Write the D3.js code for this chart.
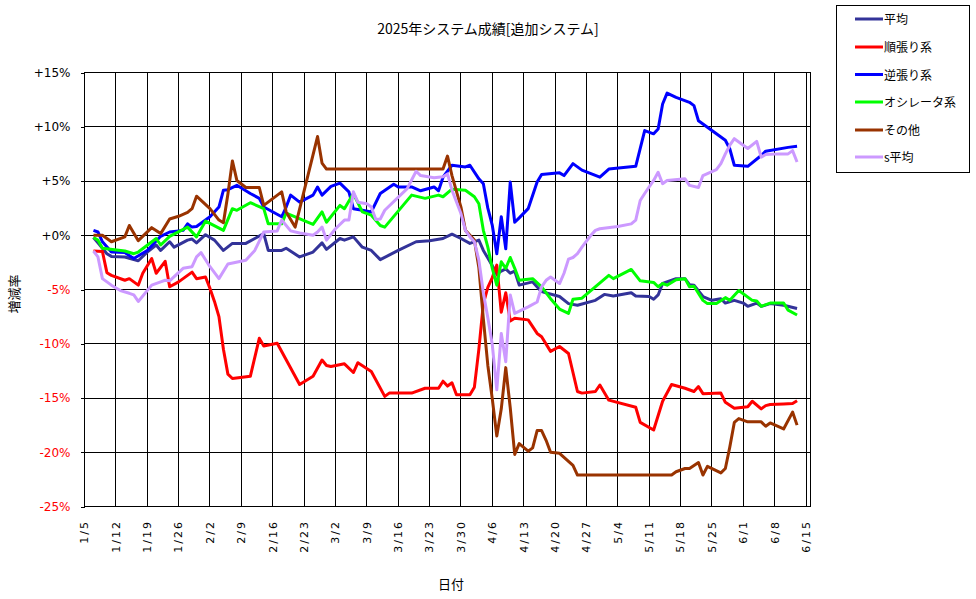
<!DOCTYPE html>
<html>
<head>
<meta charset="utf-8">
<script src="https://cdn.jsdelivr.net/npm/d3@7"></script>
<style>
  body { margin: 0; background: #fff; }
  text { font-family: "Noto Sans CJK JP", "Noto Sans", sans-serif; }
</style>
</head>
<body>
<div id="chart"></div>
<script>

//tick labels
const xTickLabels = ["1/5","1/12","1/19","1/26","2/2","2/9","2/16","2/23","3/2","3/9","3/16","3/23","3/30",
    "4/6","4/13","4/20","4/27","5/4","5/11","5/18","5/25","6/1","6/8","6/15"];
const yTicks = [-25, -20, -15, -10, -5, 0, 5, 10, 15];

//series names + colors (legend order)
const seriesNames = ["平均", "順張り系", "逆張り系", "オシレータ系", "その他", "s平均"];
const seriesColors = ["#333399", "#ff0000", "#0000ff", "#00ff00", "#993300", "#cc99ff"];

//values, [date, %]
const avg = [["1/7",-0.2],["1/8",-0.7],["1/10",-1.7],["1/11",-1.95],["1/14",-2.0],["1/17",-2.35],["1/19",-1.55],
    ["1/21",-0.9],["1/22",-1.4],["1/24",-0.6],["1/25",-1.1],["1/28",-0.45],["1/29",-0.35],["1/30",-0.7],["2/1",0.05],
    ["2/3",-0.45],["2/5",-1.4],["2/7",-0.75],["2/10",-0.75],["2/12",-0.3],["2/14",0.15],["2/15",-1.4],["2/18",-1.4],
    ["2/19",-1.2],["2/22",-2.0],["2/25",-1.55],["2/27",-0.7],["2/28",-1.3],["3/3",-0.3],["3/4",-0.45],["3/6",-0.15],
    ["3/8",-1.1],["3/10",-1.4],["3/12",-2.25],["3/16",-1.4],["3/20",-0.6],["3/23",-0.5],["3/26",-0.3],["3/28",0.1],
    ["3/30",-0.3],["4/1",-0.75],["4/3",-0.45],["4/4",-1.4],["4/5",-2.1],["4/6",-2.8],["4/7",-3.6],["4/8",-3.3],
    ["4/9",-3.1],["4/10",-3.5],["4/11",-3.3],["4/12",-4.6],["4/15",-4.3],["4/17",-5.2],["4/21",-5.65],["4/23",-6.3],
    ["4/25",-6.45],["4/29",-6.0],["5/1",-5.45],["5/3",-5.6],["5/7",-5.3],["5/8",-5.6],["5/11",-5.65],["5/12",-5.9],
    ["5/13",-5.5],["5/14",-4.45],["5/17",-4.0],["5/19",-4.0],["5/20",-4.55],["5/21",-4.6],["5/23",-5.65],["5/25",-6.0],
    ["5/27",-5.85],["5/28",-6.25],["5/30",-6.0],["6/1",-6.25],["6/2",-6.55],["6/4",-6.25],["6/5",-6.55],["6/7",-6.3],
    ["6/10",-6.45],["6/13",-6.75]];

const trend = [["1/7",-1.45],["1/9",-1.5],["1/10",-3.45],["1/11",-3.7],["1/14",-4.15],["1/15",-4.0],["1/17",-4.6],
    ["1/18",-3.5],["1/20",-2.15],["1/21",-3.5],["1/23",-2.4],["1/24",-4.75],["1/26",-4.3],["1/29",-3.4],["1/30",-4.0],
    ["2/1",-3.85],["2/2",-4.9],["2/3",-6.1],["2/4",-7.5],["2/5",-10.5],["2/6",-12.8],["2/7",-13.2],["2/11",-13.0],
    ["2/13",-9.5],["2/14",-10.2],["2/17",-9.95],["2/22",-13.75],["2/25",-13.0],["2/27",-11.5],["2/28",-12.0],
    ["3/1",-12.1],["3/4",-11.85],["3/6",-12.65],["3/7",-11.75],["3/10",-12.55],["3/13",-14.85],["3/14",-14.55],
    ["3/19",-14.55],["3/22",-14.1],["3/25",-14.1],["3/26",-13.45],["3/27",-13.9],["3/28",-13.6],["3/29",-14.7],
    ["4/1",-14.7],["4/2",-14.0],["4/3",-10.5],["4/4",-6.3],["4/5",-4.8],["4/6",-3.9],["4/7",-2.75],["4/8",-7.1],
    ["4/9",-5.3],["4/10",-7.9],["4/11",-7.65],["4/14",-7.8],["4/16",-9.05],["4/17",-9.35],["4/19",-10.7],
    ["4/21",-10.25],["4/23",-10.9],["4/25",-14.4],["4/26",-14.55],["4/29",-14.4],["4/30",-13.8],["5/2",-15.2],
    ["5/8",-15.85],["5/9",-17.25],["5/12",-17.95],["5/14",-15.3],["5/16",-13.75],["5/19",-14.1],["5/21",-14.4],
    ["5/22",-13.95],["5/23",-14.6],["5/27",-14.55],["5/28",-15.4],["5/30",-15.95],["6/2",-15.8],["6/3",-15.3],
    ["6/5",-16.0],["6/6",-15.7],["6/7",-15.6],["6/10",-15.55],["6/12",-15.5],["6/13",-15.25]];

const counter = [["1/7",0.45],["1/8",0.3],["1/9",-0.6],["1/11",-1.55],["1/14",-1.6],["1/16",-2.15],["1/19",-1.4],
    ["1/22",-0.1],["1/24",0.3],["1/27",0.45],["1/28",1.05],["1/29",0.75],["1/30",0.8],["2/2",1.7],["2/4",2.6],
    ["2/5",4.15],["2/6",4.2],["2/8",4.6],["2/11",3.85],["2/13",3.4],["2/14",2.6],["2/18",1.7],["2/19",2.6],
    ["2/20",3.7],["2/22",3.05],["2/25",3.7],["2/26",4.45],["2/27",3.7],["3/1",4.5],["3/3",4.8],["3/5",4.0],
    ["3/6",2.45],["3/8",2.3],["3/10",2.15],["3/12",3.85],["3/15",4.7],["3/16",4.45],["3/19",4.45],["3/21",4.1],
    ["3/24",4.45],["3/25",4.1],["3/26",5.35],["3/28",6.45],["3/31",6.3],["4/1",6.45],["4/3",5.2],["4/4",4.75],
    ["4/5",2.5],["4/6",0.9],["4/7",-1.7],["4/8",1.7],["4/9",-1.25],["4/10",4.9],["4/11",1.2],["4/12",1.6],
    ["4/14",2.45],["4/16",4.9],["4/17",5.6],["4/21",5.75],["4/22",5.5],["4/24",6.6],["4/26",6.0],["4/30",5.35],
    ["5/2",6.1],["5/8",6.35],["5/10",9.65],["5/12",9.35],["5/13",9.8],["5/14",12.1],["5/15",13.1],["5/17",12.7],
    ["5/20",12.25],["5/21",11.95],["5/22",10.55],["5/28",8.75],["5/29",7.95],["5/30",6.45],["6/2",6.35],
    ["6/5",7.35],["6/6",7.75],["6/11",8.1],["6/13",8.2]];

const oscillator = [["1/7",-0.2],["1/8",-0.45],["1/9",-1.2],["1/14",-1.45],["1/16",-1.7],["1/17",-1.55],
    ["1/21",-0.3],["1/22",-0.9],["1/24",-0.1],["1/28",0.75],["1/30",-0.15],["2/1",1.3],["2/5",0.45],["2/7",2.45],
    ["2/8",2.3],["2/11",3.0],["2/14",2.45],["2/15",1.05],["2/18",1.05],["2/19",2.05],["2/21",1.7],["2/25",1.0],
    ["2/27",2.15],["2/28",1.2],["3/3",2.75],["3/4",2.45],["3/6",3.85],["3/8",2.15],["3/10",1.85],["3/12",0.9],
    ["3/13",0.75],["3/19",3.7],["3/22",3.4],["3/25",3.7],["3/26",3.55],["3/28",4.25],["3/31",4.15],["4/2",3.55],
    ["4/3",2.9],["4/4",0.45],["4/5",-1.1],["4/6",-3.05],["4/7",-4.6],["4/8",-2.45],["4/9",-3.05],["4/10",-2.05],
    ["4/11",-3.05],["4/12",-4.15],["4/15",-4.0],["4/17",-4.75],["4/19",-5.85],["4/21",-6.8],["4/23",-7.2],
    ["4/24",-5.9],["4/26",-5.8],["5/2",-3.7],["5/3",-4.0],["5/7",-3.15],["5/9",-4.2],["5/12",-4.35],["5/13",-4.75],
    ["5/14",-4.45],["5/15",-4.6],["5/17",-4.1],["5/19",-4.0],["5/20",-4.75],["5/21",-4.7],["5/23",-6.0],
    ["5/24",-6.3],["5/26",-6.3],["5/28",-5.75],["5/29",-6.0],["5/31",-5.1],["6/3",-6.0],["6/4",-6.05],
    ["6/5",-6.55],["6/7",-6.25],["6/10",-6.25],["6/11",-6.9],["6/13",-7.35]];

const other = [["1/7",0],["1/9",0],["1/11",-0.6],["1/14",-0.15],["1/15",0.9],["1/17",-0.5],["1/20",0.7],
    ["1/22",0.15],["1/24",1.5],["1/26",1.75],["1/28",2.1],["1/29",2.45],["1/30",3.6],["2/2",2.45],["2/4",1.4],
    ["2/5",1.15],["2/6",3.8],["2/7",6.85],["2/8",5.05],["2/10",4.4],["2/13",4.4],["2/14",2.75],["2/18",4.0],
    ["2/19",2.15],["2/21",0.75],["2/26",9.1],["2/27",6.65],["2/28",6.1],["3/26",6.1],["3/27",7.3],["3/28",5.5],
    ["3/30",2.6],["3/31",0.45],["4/2",-0.45],["4/3",-3.0],["4/4",-7.7],["4/5",-12.0],["4/6",-15.1],["4/7",-18.5],
    ["4/8",-16.0],["4/9",-12.2],["4/10",-15.9],["4/11",-20.2],["4/12",-19.2],["4/14",-19.9],["4/15",-19.6],
    ["4/16",-18.0],["4/17",-18.0],["4/18",-18.9],["4/19",-20.0],["4/21",-20.1],["4/24",-21.2],["4/25",-22.1],
    ["5/16",-22.1],["5/17",-21.8],["5/19",-21.5],["5/20",-21.5],["5/22",-20.95],["5/23",-22.1],["5/24",-21.3],
    ["5/27",-21.9],["5/28",-21.5],["5/29",-19.5],["5/30",-17.25],["5/31",-16.9],["6/2",-17.2],["6/5",-17.2],
    ["6/6",-17.6],["6/7",-17.3],["6/10",-17.85],["6/12",-16.3],["6/13",-17.5]];

const sAvg = [["1/7",-1.45],["1/8",-2.0],["1/9",-4.0],["1/11",-4.6],["1/13",-5.1],["1/15",-5.35],["1/16",-5.5],
    ["1/17",-6.1],["1/20",-4.6],["1/22",-4.3],["1/23",-4.15],["1/24",-4.2],["1/27",-3.05],["1/29",-2.9],
    ["1/30",-2.0],["1/31",-1.6],["2/2",-2.9],["2/4",-4.0],["2/6",-2.65],["2/10",-2.3],["2/12",-1.4],["2/14",0.3],
    ["2/17",0.4],["2/18",1.4],["2/20",0.4],["2/22",0.2],["2/25",0],["2/26",0.3],["2/27",0.75],["2/28",-0.45],
    ["3/2",0.6],["3/4",1.4],["3/5",1.4],["3/6",4.0],["3/7",3.05],["3/9",2.9],["3/10",2.6],["3/11",1.45],
    ["3/12",1.5],["3/13",2.3],["3/18",4.3],["3/20",5.9],["3/21",5.5],["3/24",5.3],["3/26",5.4],["3/27",5.65],
    ["3/28",4.15],["3/30",2.0],["3/31",0.45],["4/1",-0.15],["4/2",-0.6],["4/3",-2.3],["4/4",-5.3],["4/5",-7.6],
    ["4/6",-10.1],["4/7",-14.25],["4/8",-9.05],["4/9",-11.65],["4/10",-5.5],["4/11",-7.2],["4/14",-6.6],
    ["4/16",-6.15],["4/17",-4.75],["4/18",-4.15],["4/19",-3.85],["4/21",-4.45],["4/22",-3.5],["4/23",-2.2],
    ["4/24",-2.05],["4/25",-1.7],["4/26",-1.1],["4/28",0.0],["4/29",0.45],["4/30",0.6],["5/4",0.8],["5/7",1.05],
    ["5/8",1.4],["5/9",3.2],["5/10",3.85],["5/12",5.05],["5/13",5.8],["5/14",4.75],["5/15",5.05],["5/19",5.2],
    ["5/20",4.6],["5/22",4.4],["5/23",5.5],["5/26",6.05],["5/27",6.6],["5/28",7.5],["5/29",8.3],["5/30",8.9],
    ["6/2",8.0],["6/4",8.65],["6/5",7.2],["6/6",7.45],["6/9",7.5],["6/11",7.5],["6/12",7.8],["6/13",6.75]];

const allSeries = [avg, trend, counter, oscillator, other, sAvg];

const width = 976;
const height = 599;
const margin = { top: 72.5, right: 165.5, bottom: 92.5, left: 84.5 };

const parseDate = d3.timeParse("%Y/%m/%d");
function toDate(s) { return parseDate("2025/" + s); }

const svg = d3.select("#chart")
    .append("svg")
    .attr("width", width)
    .attr("height", height);

//scales
const xScale = d3.scaleTime()
    .domain([toDate("1/5"), toDate("6/16")])
    .range([margin.left, width - margin.right]);

const yScale = d3.scaleLinear()
    .domain([-25, 15])
    .range([height - margin.bottom, margin.top]);

const plotLeft = margin.left;
const plotRight = width - margin.right;
const plotTop = margin.top;
const plotBottom = height - margin.bottom;

//grid lines
svg.append("g")
    .selectAll("line")
    .data(yTicks)
    .enter()
    .append("line")
    .attr("x1", plotLeft)
    .attr("x2", plotRight)
    .attr("y1", function(d) { return yScale(d); })
    .attr("y2", function(d) { return yScale(d); })
    .attr("stroke", "#000")
    .attr("shape-rendering", "crispEdges");

svg.append("g")
    .selectAll("line")
    .data(xTickLabels)
    .enter()
    .append("line")
    .attr("x1", function(d) { return xScale(toDate(d)); })
    .attr("x2", function(d) { return xScale(toDate(d)); })
    .attr("y1", plotTop)
    .attr("y2", plotBottom)
    .attr("stroke", "#000")
    .attr("shape-rendering", "crispEdges");

//plot border
svg.append("rect")
    .attr("x", plotLeft)
    .attr("y", plotTop)
    .attr("width", plotRight - plotLeft)
    .attr("height", plotBottom - plotTop)
    .attr("fill", "none")
    .attr("stroke", "#000")
    .attr("shape-rendering", "crispEdges");

//y axis
const yAxis = svg.append("g")
    .attr("transform", "translate(" + plotLeft + ",0)")
    .call(d3.axisLeft(yScale)
        .tickValues(yTicks)
        .tickSize(4)
        .tickPadding(10)
        .tickFormat(function(d) { return (d >= 0 ? "+" : "-") + Math.abs(d) + "%"; }));

yAxis.select(".domain").remove();
yAxis.selectAll("line").attr("shape-rendering", "crispEdges");
yAxis.selectAll("text")
    .style("font-family", "'DejaVu Sans', sans-serif")
    .style("font-size", "12px")
    .attr("fill", function(d) { return d < 0 ? "#ff0000" : "#000"; });

//x axis labels (rotated)
svg.append("g")
    .selectAll("text")
    .data(xTickLabels)
    .enter()
    .append("text")
    .attr("transform", function(d) {
        return "translate(" + xScale(toDate(d)) + ",520) rotate(-90)";
    })
    .attr("text-anchor", "end")
    .attr("dy", "0.35em")
    .style("font-family", "'DejaVu Sans', sans-serif")
    .style("font-size", "11px")
    .style("letter-spacing", "2px")
    .text(function(d) { return d; });

//lines
const line = d3.line()
    .x(function(d) { return xScale(toDate(d[0])); })
    .y(function(d) { return yScale(d[1]); });

allSeries.forEach(function(s, i) {
    svg.append("path")
        .datum(s)
        .attr("d", line)
        .attr("fill", "none")
        .attr("stroke", seriesColors[i])
        .attr("stroke-width", 3)
        .attr("stroke-linejoin", "round");
});

//title
svg.append("text")
    .attr("x", 488)
    .attr("y", 34)
    .attr("text-anchor", "middle")
    .style("font-size", "14px")
    .text("2025年システム成績[追加システム]");

//axis titles
svg.append("text")
    .attr("x", 451)
    .attr("y", 589)
    .attr("text-anchor", "middle")
    .style("font-size", "13px")
    .text("日付");

svg.append("text")
    .attr("transform", "translate(19,294) rotate(-90)")
    .attr("text-anchor", "middle")
    .style("font-size", "13px")
    .text("増減率");

//legend
const legend = svg.append("g");

legend.append("rect")
    .attr("x", 836.5)
    .attr("y", 5.5)
    .attr("width", 133)
    .attr("height", 167)
    .attr("fill", "#fff")
    .attr("stroke", "#000");

const legendY = [19, 47, 74.5, 102, 130, 157];

seriesNames.forEach(function(name, i) {
    legend.append("line")
        .attr("x1", 855)
        .attr("x2", 883)
        .attr("y1", legendY[i])
        .attr("y2", legendY[i])
        .attr("stroke", seriesColors[i])
        .attr("stroke-width", 3);

    legend.append("text")
        .attr("x", 884)
        .attr("y", legendY[i] + 5)
        .style("font-size", "12px")
        .text(name);
});

</script>
</body>
</html>
